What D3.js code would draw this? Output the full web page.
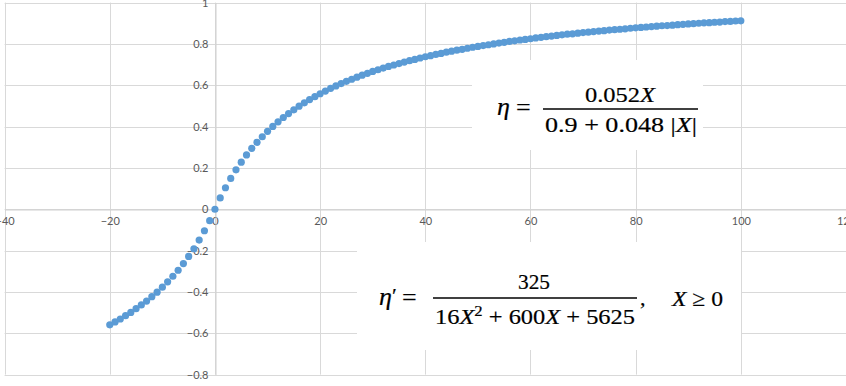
<!DOCTYPE html>
<html>
<head>
<meta charset="utf-8">
<script src="https://cdn.jsdelivr.net/npm/d3@7"></script>
<style>
  html, body { margin: 0; padding: 0; background: #fff; }
  svg { display: block; }
</style>
</head>
<body>
<svg id="chart" width="846" height="386"></svg>
<script>
// ---- data ----
const xValues = [-20,-19,-18,-17,-16,-15,-14,-13,-12,-11,-10,-9,-8,-7,-6,-5,-4,-3,-2,-1,
  0,1,2,3,4,5,6,7,8,9,10,11,12,13,14,15,16,17,18,19,20,21,22,23,24,25,26,27,28,29,30,
  31,32,33,34,35,36,37,38,39,40,41,42,43,44,45,46,47,48,49,50,51,52,53,54,55,56,57,58,59,60,
  61,62,63,64,65,66,67,68,69,70,71,72,73,74,75,76,77,78,79,80,81,82,83,84,85,86,87,88,89,90,
  91,92,93,94,95,96,97,98,99,100];
const etaValues = [-0.559,-0.545,-0.531,-0.515,-0.499,-0.481,-0.463,-0.444,-0.423,-0.401,-0.377,-0.351,-0.324,-0.295,-0.263,-0.228,-0.191,-0.149,-0.104,-0.055,
  0.000,0.055,0.104,0.149,0.191,0.228,0.263,0.295,0.324,0.351,0.377,0.401,0.423,0.444,0.463,0.481,0.499,0.515,0.531,0.545,0.559,
  0.572,0.585,0.597,0.608,0.619,0.629,0.639,0.649,0.658,0.667,
  0.675,0.683,0.691,0.698,0.705,0.712,0.719,0.725,0.732,0.738,
  0.743,0.749,0.754,0.760,0.765,0.770,0.774,0.779,0.784,0.788,
  0.792,0.796,0.800,0.804,0.808,0.812,0.815,0.819,0.822,0.825,
  0.829,0.832,0.835,0.838,0.841,0.844,0.847,0.849,0.852,0.855,
  0.857,0.860,0.862,0.864,0.867,0.869,0.871,0.873,0.876,0.878,
  0.880,0.882,0.884,0.886,0.888,0.889,0.891,0.893,0.895,0.897,
  0.898,0.900,0.902,0.903,0.905,0.906,0.908,0.909,0.911,0.912];
const xTicks = [-40,-20,0,20,40,60,80,100,120];
const yTicks = [-0.8,-0.6,-0.4,-0.2,0,0.2,0.4,0.6,0.8,1];

// ---- layout ----
const svg = d3.select("#chart");
const x = d3.scaleLinear().domain([-40, 120]).range([4.6, 846]);
const y = d3.scaleLinear().domain([-0.8, 1]).range([374.6, 2.6]);
const gridColor = "#d9d9d9";
const labelColor = "#595959";
const font = "Lato, 'Open Sans', sans-serif";

// gridlines
svg.append("g").selectAll("line").data(xTicks).join("line")
  .attr("x1", d => Math.round(x(d)) + 0.5).attr("x2", d => Math.round(x(d)) + 0.5)
  .attr("y1", y(1)).attr("y2", y(-0.8))
  .attr("stroke", gridColor).attr("stroke-width", 1);
svg.append("g").selectAll("line").data(yTicks).join("line")
  .attr("x1", x(-40)).attr("x2", x(120))
  .attr("y1", d => Math.round(y(d)) + 0.5).attr("y2", d => Math.round(y(d)) + 0.5)
  .attr("stroke", gridColor).attr("stroke-width", 1);

// axes through origin (D3 axes, no ticks, labels only)
const xAxis = d3.axisBottom(x).tickValues(xTicks).tickSize(0).tickPadding(8)
  .tickFormat(d => d3.format("d")(d));
const gx = svg.append("g").attr("transform", `translate(0,${Math.round(y(0)) + 0.5})`).call(xAxis);
gx.select(".domain").attr("stroke", "#cfcfcf");
gx.selectAll("text").attr("fill", labelColor).style("font-family", font).style("font-size", "11px");

const yAxis = d3.axisLeft(y).tickValues(yTicks).tickSize(0).tickPadding(7)
  .tickFormat(d => d === 0 ? "0" : (d === 1 ? "1" : d3.format(".1f")(d)));
const gy = svg.append("g").attr("transform", `translate(${Math.round(x(0)) + 0.5},0)`).call(yAxis);
gy.select(".domain").attr("stroke", "#cfcfcf");
gy.selectAll("text").attr("fill", labelColor).style("font-family", font).style("font-size", "11px");

// formula boxes (white, covering grid)
svg.append("rect").attr("x", 472).attr("y", 60).attr("width", 231).attr("height", 90).attr("fill", "#fff");
svg.append("rect").attr("x", 357).attr("y", 242).attr("width", 384).attr("height", 108).attr("fill", "#fff");

// data points
svg.append("g").selectAll("circle").data(xValues.map((v, i) => [v, etaValues[i]])).join("circle")
  .attr("cx", d => x(d[0])).attr("cy", d => y(d[1])).attr("r", 3.6)
  .attr("fill", "#5b9bd5");

// ---- formulas ----
const serif = "'Liberation Serif', 'DejaVu Serif', serif";
function txt(xp, yp, anchor, size, len) {
  const t = svg.append("text").attr("x", xp).attr("y", yp).attr("text-anchor", anchor)
    .style("font-family", serif).style("font-size", size + "px").attr("fill", "#000")
    .attr("stroke", "#000").attr("stroke-width", 0.2);
  if (len) t.attr("textLength", len).attr("lengthAdjust", "spacingAndGlyphs");
  return t;
}
// formula 1
txt(497, 115, "start", 26).append("tspan").style("font-style", "italic").text("η");
txt(516, 116, "start", 26).text("=");
svg.append("line").attr("x1", 543).attr("x2", 698).attr("y1", 109).attr("y2", 109)
  .attr("stroke", "#000").attr("stroke-width", 1.3);
{
  const t = txt(620, 102, "middle", 22, 70);
  t.append("tspan").text("0.052");
  t.append("tspan").style("font-style", "italic").text("X");
}
{
  const t = txt(621, 132, "middle", 22, 152);
  t.append("tspan").text("0.9 + 0.048 |");
  t.append("tspan").style("font-style", "italic").text("X");
  t.append("tspan").text("|");
}
// formula 2
{
  const t = txt(379, 305, "start", 26);
  t.append("tspan").style("font-style", "italic").text("η");
  t.append("tspan").style("font-size", "22px").attr("dy", -2).text("′");
}
txt(402, 306, "start", 26).text("=");
svg.append("line").attr("x1", 433).attr("x2", 637).attr("y1", 298).attr("y2", 298)
  .attr("stroke", "#000").attr("stroke-width", 1.3);
txt(534, 289, "middle", 22, 32).text("325");
{
  const t = txt(535, 324, "middle", 22, 200);
  t.append("tspan").text("16");
  t.append("tspan").style("font-style", "italic").text("X");
  t.append("tspan").style("font-size", "15px").attr("dy", -8).text("2");
  t.append("tspan").attr("dy", 8).text(" + 600");
  t.append("tspan").style("font-style", "italic").text("X");
  t.append("tspan").text(" + 5625");
}
txt(640, 305, "start", 22).text(",");
{
  const t = txt(672, 306, "start", 22, 51);
  t.append("tspan").style("font-style", "italic").text("X");
  t.append("tspan").text(" ≥ 0");
}
</script>
</body>
</html>
